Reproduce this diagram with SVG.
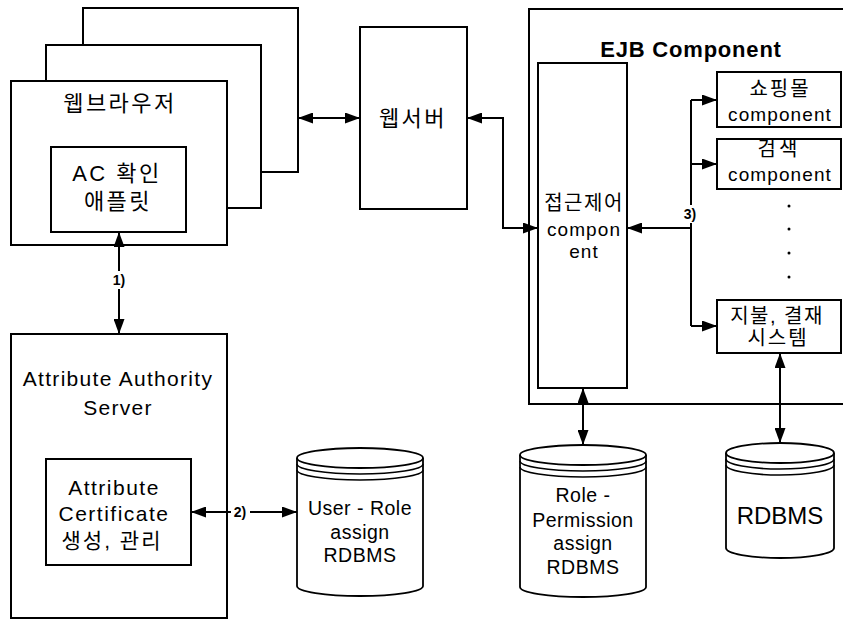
<svg xmlns="http://www.w3.org/2000/svg" width="843" height="619" viewBox="0 0 843 619">
<defs>
<marker id="ah" markerWidth="15" markerHeight="11" refX="15" refY="5.5" orient="auto-start-reverse" markerUnits="userSpaceOnUse"><path d="M0,0 L15,5.5 L0,11 Z" fill="#000"/></marker>
<style>
.box{fill:#fff;stroke:#000;stroke-width:2}
.cyl{fill:#fff;stroke:#000;stroke-width:1.8}
.ln{fill:none;stroke:#000;stroke-width:2}
.t{font-family:"Liberation Sans","Noto Sans CJK KR",sans-serif;font-size:21px;fill:#000;text-anchor:middle;dominant-baseline:central}
.k{font-size:22px;letter-spacing:2.5px}
.kk{font-size:20px;letter-spacing:1.5px}
.m{font-size:19px;letter-spacing:1.1px}
.s{font-size:19.5px;letter-spacing:0.5px}
.lab{font-family:"Liberation Sans",sans-serif;font-size:14px;font-weight:bold;fill:#000;text-anchor:middle;dominant-baseline:central}
</style>
</defs>
<rect width="843" height="619" fill="#fff"/>

<g id="browser-stack">
<rect class="box" x="83" y="8" width="215" height="164"/>
<rect class="box" x="46" y="45" width="215" height="163"/>
</g>
<g id="browser">
<rect class="box" x="11" y="81" width="216" height="164"/>
<text class="t k" x="120" y="103">웹브라우저</text>
</g>
<g id="ac-applet">
<rect class="box" x="51" y="147" width="135" height="85"/>
<text class="t k" x="117" y="173">AC 확인</text>
<text class="t k" x="118" y="201">애플릿</text>
</g>

<g id="webserver">
<rect class="box" x="360" y="27" width="107" height="182"/>
<text class="t k" x="413" y="118">웹서버</text>
</g>

<g id="ejb">
<rect class="box" x="529" y="9" width="340" height="395"/>
<text class="t" x="691" y="49" style="font-size:22px;font-weight:bold;letter-spacing:0.8px">EJB Component</text>
</g>
<g id="access-control">
<rect class="box" x="538" y="63" width="89" height="325"/>
<text class="t kk" x="584" y="203">접근제어</text>
<text class="t m" x="584" y="229">compon</text>
<text class="t m" x="584" y="251">ent</text>
</g>
<g id="shopping">
<rect class="box" x="717" y="72" width="124" height="55"/>
<text class="t kk" x="780" y="89" style="letter-spacing:2px">쇼핑몰</text>
<text class="t m" x="780" y="114">component</text>
</g>
<g id="search">
<rect class="box" x="717" y="139" width="124" height="50"/>
<text class="t kk" x="779" y="149" style="letter-spacing:3px">검색</text>
<text class="t m" x="780" y="174">component</text>
</g>
<g id="dots">
<circle cx="789" cy="206" r="1.5"/>
<circle cx="789" cy="229" r="1.5"/>
<circle cx="789" cy="253" r="1.5"/>
<circle cx="789" cy="277" r="1.5"/>
</g>
<g id="payment">
<rect class="box" x="717" y="300" width="124" height="53"/>
<text class="t kk" x="777" y="316">지불, 결재</text>
<text class="t kk" x="778" y="338" style="letter-spacing:2px">시스템</text>
</g>

<g id="aa-server">
<rect class="box" x="11" y="334" width="216" height="284"/>
<text class="t" x="118" y="378" style="letter-spacing:1.3px">Attribute Authority</text>
<text class="t" x="118" y="407" style="letter-spacing:1.3px">Server</text>
</g>
<g id="ac-mgmt">
<rect class="box" x="46" y="459" width="145" height="106"/>
<text class="t" x="114" y="487" style="letter-spacing:1.5px">Attribute</text>
<text class="t" x="114" y="513" style="letter-spacing:1.5px">Certificate</text>
<text class="t k" x="112" y="540" style="font-size:21px;letter-spacing:2px">생성, 관리</text>
</g>

<g id="db-user-role">
<path class="cyl" d="M297,458 V586 A63,10 0 0 0 423,586 V458"/>
<ellipse class="cyl" cx="360" cy="458" rx="63" ry="10"/>
<path class="ln" style="stroke-width:1.6" d="M297,464 A63,10 0 0 0 423,464 M297,470 A63,10 0 0 0 423,470"/>
<text class="t s" x="360" y="508">User - Role</text>
<text class="t s" x="360" y="532">assign</text>
<text class="t s" x="360" y="555">RDBMS</text>
</g>
<g id="db-role-perm">
<path class="cyl" d="M520,455 V587 A63,10 0 0 0 646,587 V455"/>
<ellipse class="cyl" cx="583" cy="455" rx="63" ry="10"/>
<path class="ln" style="stroke-width:1.6" d="M520,461 A63,10 0 0 0 646,461 M520,467 A63,10 0 0 0 646,467"/>
<text class="t s" x="583" y="495">Role -</text>
<text class="t s" x="583" y="520">Permission</text>
<text class="t s" x="583" y="543">assign</text>
<text class="t s" x="583" y="567">RDBMS</text>
</g>
<g id="db-rdbms">
<path class="cyl" d="M726,453 V548 A54,10 0 0 0 834,548 V453"/>
<ellipse class="cyl" cx="780" cy="453" rx="54" ry="10"/>
<path class="ln" style="stroke-width:1.6" d="M726,459 A54,10 0 0 0 834,459 M726,465 A54,10 0 0 0 834,465"/>
<text class="t" x="780" y="515" style="font-size:24px">RDBMS</text>
</g>

<g id="connectors">
<path class="ln" d="M298,118 H360" marker-start="url(#ah)" marker-end="url(#ah)"/>
<path class="ln" d="M467,118 H503 V228 H538" marker-start="url(#ah)" marker-end="url(#ah)"/>
<path class="ln" d="M119,232 V334" marker-start="url(#ah)" marker-end="url(#ah)"/>
<rect x="110" y="271" width="18" height="18" fill="#fff"/>
<text class="lab" x="119" y="280">1)</text>
<path class="ln" d="M191,512 H297" marker-start="url(#ah)" marker-end="url(#ah)"/>
<rect x="231" y="503" width="19" height="18" fill="#fff"/>
<text class="lab" x="240" y="512">2)</text>
<path class="ln" d="M691,228 H627" marker-end="url(#ah)"/>
<path class="ln" d="M691,100 V326"/>
<path class="ln" d="M691,100 H717" marker-end="url(#ah)"/>
<path class="ln" d="M691,164 H717" marker-end="url(#ah)"/>
<path class="ln" d="M691,326 H717" marker-end="url(#ah)"/>
<rect x="682" y="205" width="18" height="18" fill="#fff"/>
<text class="lab" x="690" y="214">3)</text>
<path class="ln" d="M583,388 V445" marker-start="url(#ah)" marker-end="url(#ah)"/>
<path class="ln" d="M780,353 V443" marker-start="url(#ah)" marker-end="url(#ah)"/>
</g>
</svg>
